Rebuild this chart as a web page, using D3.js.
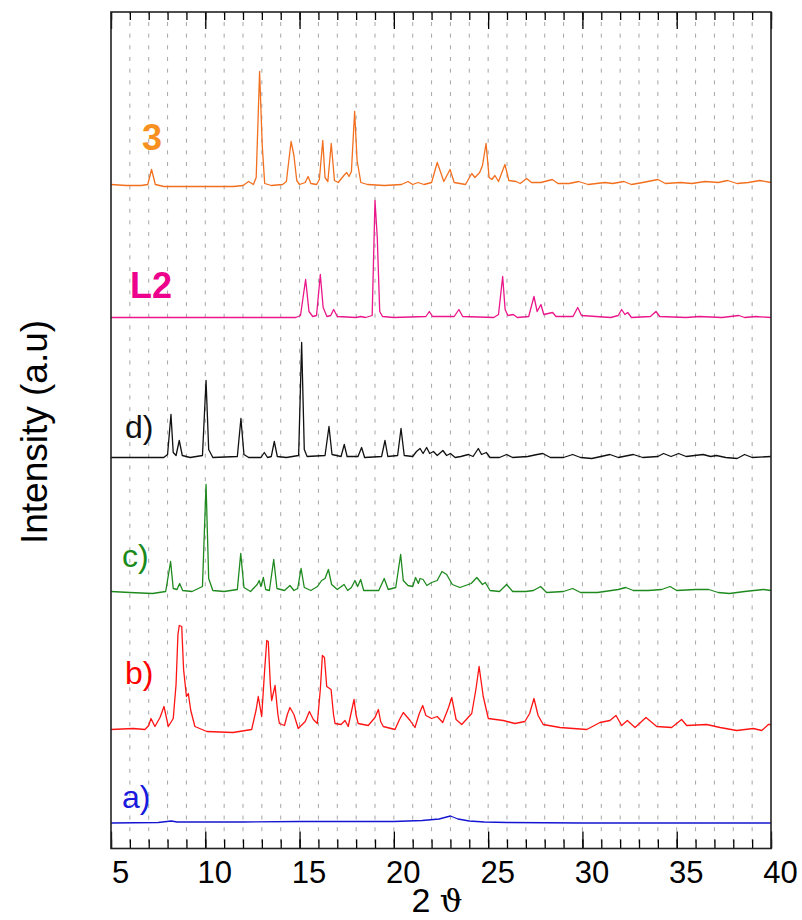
<!DOCTYPE html>
<html>
<head>
<meta charset="utf-8">
<script src="https://cdn.jsdelivr.net/npm/d3@7/dist/d3.min.js"></script>
<style>
  html, body { margin: 0; padding: 0; background: #fff; }
  svg { display: block; }
</style>
</head>
<body>
<svg id="chart" width="802" height="920"></svg>
<script>
// Powder XRD patterns, 2θ from 5° to 40°, stacked with vertical offsets.
// Each pattern: [2θ, intensity above its own baseline] in a.u.

const xTicksMajor = [5, 10, 15, 20, 25, 30, 35, 40];
const seriesNames = ["3", "L2", "d)", "c)", "b)", "a)"];
const seriesOffsets = [663, 531, 391, 256, 119, 25.5];

const pattern3 = [
  [5.0, 1], [5.8, 0], [6.6, 0], [6.95, 1], [7.15, 16], [7.35, 1], [7.8, -1], [9.0, -1],
  [10.5, -1], [11.5, -1], [12.0, 0], [12.3, 4], [12.55, 1], [12.7, 8], [12.88, 114],
  [13.02, 40], [13.15, 2], [13.5, 0], [14.1, 1], [14.3, 4], [14.55, 44], [14.7, 30],
  [14.85, 5], [15.0, 1], [15.3, 3], [15.45, 9], [15.6, 2], [15.9, 1], [16.05, 6],
  [16.23, 45], [16.35, 8], [16.5, 4], [16.68, 42], [16.85, 5], [17.05, 3], [17.35, 10],
  [17.5, 13], [17.62, 9], [17.75, 14], [17.92, 74], [18.05, 25], [18.25, 3], [18.6, 1],
  [19.5, 0], [20.4, 1], [20.75, 4], [21.0, 1], [21.28, 3], [21.6, 1], [22.0, 3],
  [22.3, 23], [22.45, 15], [22.65, 4], [22.98, 16], [23.2, 3], [23.8, 1], [24.13, 12],
  [24.3, 8], [24.55, 13], [24.7, 20], [24.89, 42], [25.05, 8], [25.2, 6], [25.36, 10],
  [25.55, 4], [25.89, 21], [26.1, 5], [26.48, 4], [26.7, 2], [27.04, 7], [27.3, 3],
  [27.8, 3], [28.4, 6], [28.7, 2], [29.3, 2], [29.8, 4], [30.3, 1], [31.2, 3], [31.6, 2],
  [32.2, 4], [32.6, 1], [33.2, 3], [34.0, 6], [34.4, 2], [35.2, 3], [35.8, 2], [36.5, 4],
  [37.2, 3], [37.7, 5], [38.2, 2], [38.8, 3], [39.4, 5], [40.0, 3]
];

const patternL2 = [
  [5.0, 0], [8.0, 0], [11.0, 0], [13.0, 0], [14.8, 0], [15.05, 2], [15.32, 38], [15.5, 6],
  [15.7, 1], [15.9, 2], [16.1, 43], [16.25, 10], [16.45, 1], [16.65, 2], [16.81, 8],
  [17.0, 1], [18.0, 0], [18.24, 1], [18.5, 0], [18.85, 2], [19.0, 117], [19.12, 80],
  [19.25, 6], [19.4, 1], [20.0, 0], [21.7, 1], [21.88, 6], [22.05, 1], [23.2, 1],
  [23.45, 8], [23.65, 1], [25.3, 0], [25.55, 3], [25.77, 41], [25.9, 8], [26.05, 2],
  [26.33, 3], [26.55, 0], [27.15, 1], [27.43, 21], [27.6, 6], [27.8, 13], [27.95, 3],
  [28.42, 5], [28.6, 1], [28.8, 1], [29.5, 1], [29.75, 10], [29.95, 2], [31.5, 0],
  [31.9, 2], [32.08, 8], [32.25, 3], [32.4, 5], [32.6, 0], [33.6, 1], [33.9, 6],
  [34.1, 1], [35.5, 0], [36.2, 1], [37.4, 0], [38.3, 2], [38.6, 0], [39.2, 1], [40.0, 0]
];

const patternD = [
  [5.0, 0], [6.0, 0], [7.8, 0], [8.0, 3], [8.18, 43], [8.3, 5], [8.45, 2], [8.62, 17],
  [8.78, 2], [9.2, 0], [9.85, 2], [10.04, 77], [10.18, 8], [10.4, 0], [11.7, 1],
  [11.89, 39], [12.05, 3], [12.3, 0], [12.95, 0], [13.13, 5], [13.3, 0], [13.5, 1],
  [13.66, 16], [13.82, 1], [14.3, 0], [14.95, 2], [15.11, 115], [15.25, 8], [15.4, 1],
  [16.35, 2], [16.56, 31], [16.72, 3], [17.2, 1], [17.37, 13], [17.52, 1], [18.1, 1],
  [18.29, 10], [18.45, 0], [19.35, 1], [19.53, 17], [19.68, 1], [20.2, 2], [20.38, 29],
  [20.55, 2], [21.0, 1], [21.2, 6], [21.39, 9], [21.55, 4], [21.74, 10], [21.9, 4],
  [22.1, 6], [22.3, 2], [22.6, 7], [22.8, 2], [23.0, 4], [23.25, 0], [23.55, 1],
  [23.95, 3], [24.2, 1], [24.48, 9], [24.65, 3], [24.9, 5], [25.1, 0], [25.6, 0],
  [25.98, 3], [26.3, 0], [27.1, 1], [27.6, 3], [27.9, 4], [28.3, 0], [29.0, 0],
  [29.48, 3], [29.9, 0], [30.5, -1], [31.46, 3], [31.9, 0], [32.7, 3], [33.2, 0],
  [34.0, 1], [34.3, 4], [34.7, 1], [35.1, 4], [35.5, 1], [36.4, 3], [36.8, 1], [37.1, 2],
  [37.6, 0], [38.2, -1], [38.6, 3], [39.0, 0], [40.0, 1]
];

const patternC = [
  [5.0, 1], [6.0, 0], [7.2, -1], [7.9, 1], [8.16, 31], [8.3, 4], [8.5, 3], [8.64, 9],
  [8.8, 2], [9.3, 1], [9.85, 6], [10.04, 108], [10.18, 14], [10.4, 2], [11.0, 1],
  [11.7, 3], [11.88, 39], [12.05, 5], [12.4, 1], [12.75, 8], [12.86, 12], [12.95, 6],
  [13.08, 15], [13.2, 3], [13.4, 2], [13.63, 33], [13.8, 4], [14.2, 2], [14.49, 7],
  [14.7, 2], [14.9, 4], [15.08, 24], [15.25, 5], [15.6, 2], [15.95, 6], [16.17, 12],
  [16.35, 14], [16.53, 23], [16.7, 8], [17.0, 3], [17.36, 8], [17.55, 2], [17.75, 5],
  [17.94, 12], [18.08, 6], [18.24, 13], [18.4, 2], [19.2, 2], [19.49, 14], [19.7, 3],
  [20.1, 5], [20.36, 38], [20.5, 12], [20.75, 7], [21.0, 6], [21.15, 15], [21.3, 9],
  [21.39, 14], [21.55, 13], [21.75, 7], [22.0, 10], [22.3, 12], [22.55, 21], [22.8, 18],
  [23.1, 8], [23.5, 5], [24.1, 9], [24.4, 15], [24.7, 8], [24.85, 10], [25.1, 2],
  [25.6, 1], [25.98, 8], [26.3, 1], [27.0, 1], [27.4, 2], [27.78, 6], [28.1, 0],
  [29.0, 1], [29.48, 4], [29.9, 0], [30.8, 0], [31.9, 3], [32.3, 5], [32.7, 2], [33.5, 2],
  [34.2, 3], [34.65, 6], [35.0, 2], [36.0, 3], [36.7, 3], [37.2, 0], [37.8, -1],
  [38.6, 1], [39.1, 2], [39.6, 3], [40.0, 2]
];

const patternB = [
  [5.0, 0], [6.18, 1], [6.8, 0], [7.0, 4], [7.12, 11], [7.33, 3], [7.6, 12], [7.81, 23],
  [8.04, 3], [8.3, 11], [8.45, 45], [8.55, 95], [8.62, 104], [8.75, 103], [8.85, 60],
  [9.0, 33], [9.1, 36], [9.23, 19], [9.45, 3], [10.08, -2], [11.47, -3], [12.46, 0],
  [12.7, 20], [12.81, 33], [12.99, 13], [13.15, 60], [13.26, 89], [13.34, 88], [13.45, 45],
  [13.52, 29], [13.7, 44], [13.85, 15], [13.93, 6], [14.2, 4], [14.35, 15], [14.49, 22],
  [14.7, 15], [14.93, 1], [15.3, 8], [15.52, 18], [15.73, 10], [15.94, 6], [16.1, 40],
  [16.21, 74], [16.32, 72], [16.44, 43], [16.67, 40], [16.8, 15], [16.88, 6], [17.2, 5],
  [17.41, 9], [17.58, 3], [17.75, 18], [17.89, 30], [18.0, 14], [18.11, 6], [18.64, 4],
  [19.0, 12], [19.18, 20], [19.3, 8], [19.44, 3], [20.06, 0], [20.3, 10], [20.5, 17],
  [20.86, 9], [21.12, 2], [21.35, 16], [21.53, 24], [21.7, 14], [22.0, 11], [22.3, 13],
  [22.59, 7], [22.9, 22], [23.07, 32], [23.3, 10], [23.6, 5], [24.13, 16], [24.35, 40],
  [24.52, 63], [24.74, 33], [25.01, 11], [25.8, 9], [26.42, 6], [26.95, 8], [27.2, 16],
  [27.43, 31], [27.65, 14], [27.92, 5], [28.81, 2], [30.23, 0], [30.93, 7], [31.46, 9],
  [31.78, 14], [32.08, 4], [32.38, 9], [32.79, 2], [33.37, 12], [33.94, 3], [34.73, 2],
  [35.26, 10], [35.53, 4], [36.59, 5], [37.3, 2], [38.18, -1], [39.06, 1], [39.51, -1],
  [39.86, 5], [40.0, 5]
];

const patternA = [
  [5.0, 0], [7.5, 0.5], [8.2, 2], [8.5, 1], [12.0, 1], [15.0, 1.5], [18.0, 1.5],
  [20.0, 1.5], [21.5, 2.5], [22.4, 4], [23.0, 7], [23.4, 4], [24.0, 2], [24.8, 1],
  [26.0, 0.5], [30.0, 0], [35.0, 0], [40.0, 0]
];

const patterns = [pattern3, patternL2, patternD, patternC, patternB, patternA];

// ---- drawing ----
const svg = d3.select("#chart");
const plotL = 111, plotR = 771, plotT = 12, plotB = 848.5;

const x = d3.scaleLinear().domain([5, 40]).range([plotL, plotR]);
const y = d3.scaleLinear().domain([0, 836.5]).range([plotB, plotT]);

const lineColors = ["#f26f1e", "#ea168a", "#111111", "#1e8a1e", "#ff1414", "#1414d2"];
const labelColors = ["#f7901e", "#ec008c", "#111111", "#1a8a1a", "#ff0000", "#1a1adc"];

// dashed vertical grid at every degree
const gridVals = d3.range(6, 40);
svg.append("g")
  .selectAll("line")
  .data(gridVals)
  .join("line")
  .attr("x1", d => x(d)).attr("x2", d => x(d))
  .attr("y1", plotT).attr("y2", plotB)
  .attr("stroke", "#a6a6a6")
  .attr("stroke-width", 1)
  .attr("stroke-dasharray", "4,7.67")
  .attr("stroke-dashoffset", 1.67);

// patterns
svg.append("defs").append("clipPath").attr("id", "plotclip")
  .append("rect").attr("x", plotL).attr("y", plotT)
  .attr("width", plotR - plotL).attr("height", plotB - plotT);

const traces = svg.append("g").attr("clip-path", "url(#plotclip)");
patterns.forEach((p, i) => {
  const line = d3.line()
    .x(d => x(d[0]))
    .y(d => y(seriesOffsets[i] + d[1]));
  traces.append("path")
    .datum(p)
    .attr("d", line)
    .attr("fill", "none")
    .attr("stroke", lineColors[i])
    .attr("stroke-width", 1.3)
    .attr("stroke-linejoin", "round");
});

// axes: inward ticks on top and bottom, minor every degree, major every 5°
const minorVals = d3.range(5, 41);
const font = "'Liberation Sans', Arial, Helvetica, sans-serif";

svg.append("g").attr("transform", `translate(0,${plotT})`)
  .call(d3.axisTop(x).tickValues(minorVals).tickSize(-8).tickFormat(""))
  .call(g => g.select(".domain").remove());
svg.append("g").attr("transform", `translate(0,${plotT})`)
  .call(d3.axisTop(x).tickValues(xTicksMajor).tickSize(-17).tickFormat(""))
  .call(g => g.select(".domain").remove());

svg.append("g").attr("transform", `translate(0,${plotB})`)
  .call(d3.axisBottom(x).tickValues(minorVals).tickSize(-9).tickFormat(""))
  .call(g => g.select(".domain").remove());
const xAxis = svg.append("g").attr("transform", `translate(0,${plotB})`)
  .call(d3.axisBottom(x).tickValues(xTicksMajor).tickSize(-17).tickPadding(12).tickFormat(d3.format("d")))
  .call(g => g.select(".domain").remove());
xAxis.selectAll("text")
  .attr("font-family", font)
  .attr("font-size", 31)
  .attr("fill", "#000")
  .attr("dx", 9);
svg.selectAll(".tick line").attr("stroke", "#000").attr("stroke-width", 1.3);

// frame
svg.append("rect")
  .attr("x", plotL).attr("y", plotT)
  .attr("width", plotR - plotL).attr("height", plotB - plotT)
  .attr("fill", "none").attr("stroke", "#222").attr("stroke-width", 1.6);

// axis titles
const xt = svg.append("text")
  .attr("x", (plotL + plotR) / 2 - 4).attr("y", 912)
  .attr("text-anchor", "middle")
  .attr("font-family", font).attr("font-size", 34).attr("fill", "#000");
xt.append("tspan").text("2 ");
xt.append("tspan").attr("font-family", "'DejaVu Serif', 'Liberation Serif', serif").attr("font-size", 32).text("ϑ");

svg.append("text")
  .attr("transform", `translate(47,432) rotate(-90)`)
  .attr("text-anchor", "middle")
  .attr("font-family", font).attr("font-size", 37).attr("fill", "#000")
  .text("Intensity (a.u)");

// series labels
const labelPos = [[152, 150, "middle", "bold", 36], [151, 298, "middle", "bold", 36],
                  [125, 438, "start", "normal", 32], [122, 567, "start", "normal", 32],
                  [125, 684, "start", "normal", 32], [122, 808, "start", "normal", 32]];
seriesNames.forEach((name, i) => {
  const [lx, ly, anchor, weight, size] = labelPos[i];
  svg.append("text")
    .attr("x", lx).attr("y", ly)
    .attr("text-anchor", anchor)
    .attr("font-family", font)
    .attr("font-weight", weight)
    .attr("font-size", size)
    .attr("fill", labelColors[i])
    .text(name);
});
</script>
</body>
</html>
